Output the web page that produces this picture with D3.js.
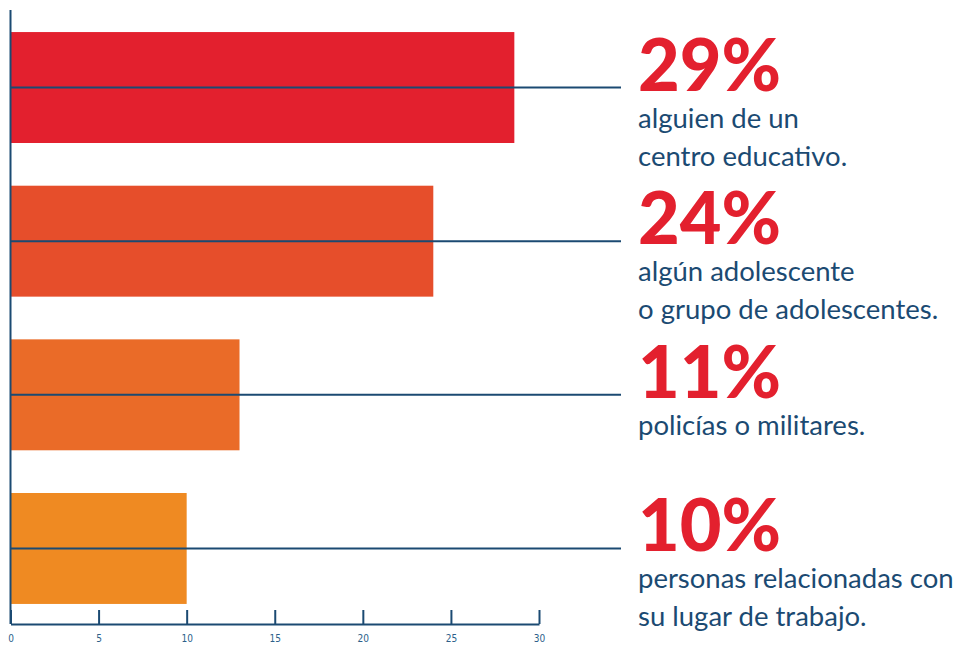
<!DOCTYPE html>
<html>
<head>
<meta charset="utf-8">
<script src="https://cdn.jsdelivr.net/npm/d3@7"></script>
<style>
  body { margin: 0; background: #fff; }
  svg { display: block; }
</style>
</head>
<body>
<div id="chart"></div>
<script>
var categories = ['centro', 'adolescentes', 'policias', 'trabajo'];
var barValues = [28.6, 24, 13, 10];
var percentLabels = ['29%', '24%', '11%', '10%'];
var descLines = [
  ['alguien de un', 'centro educativo.'],
  ['algún adolescente', 'o grupo de adolescentes.'],
  ['policías o militares.'],
  ['personas relacionadas con', 'su lugar de trabajo.']
];
var barColors = ['#e3202e', '#e64e2b', '#ea6b28', '#ef8a22'];
var tickValues = [0, 5, 10, 15, 20, 25, 30];

var width = 958, height = 646;
var blue = '#1b4a72';
var axisY = 624;

var svg = d3.select('#chart').append('svg')
  .attr('width', width)
  .attr('height', height);

var xScale = d3.scaleLinear()
  .domain([0, 30])
  .range([10.5, 539]);

var yScale = d3.scaleBand()
  .domain(categories)
  .range([10.7, 625.3])
  .paddingInner(0.278)
  .paddingOuter(0.139);

// bars
svg.selectAll('rect.bar').data(barValues)
  .enter().append('rect')
    .attr('class', 'bar')
    .attr('x', xScale(0))
    .attr('y', function(d, i) { return yScale(categories[i]); })
    .attr('width', function(d) { return xScale(d) - xScale(0); })
    .attr('height', yScale.bandwidth())
    .style('fill', function(d, i) { return barColors[i]; });

// lines through bar middles
svg.selectAll('line.guide').data(categories)
  .enter().append('line')
    .attr('class', 'guide')
    .attr('x1', xScale(0))
    .attr('x2', 621)
    .attr('y1', function(d) { return yScale(d) + yScale.bandwidth() / 2; })
    .attr('y2', function(d) { return yScale(d) + yScale.bandwidth() / 2; })
    .style('stroke', blue)
    .style('stroke-width', 2);

// y axis line
svg.append('line')
  .attr('x1', xScale(0)).attr('x2', xScale(0))
  .attr('y1', 10).attr('y2', axisY)
  .style('stroke', blue)
  .style('stroke-width', 2);

// x axis
var xAxis = svg.append('g')
  .attr('transform', 'translate(0,' + axisY + ')')
  .call(d3.axisBottom(xScale).tickValues(tickValues).tickSize(-14).tickSizeOuter(0));
xAxis.select('.domain').style('stroke', blue).style('stroke-width', 2);
xAxis.selectAll('.tick line').style('stroke', blue).style('stroke-width', 2);
xAxis.selectAll('.tick text')
  .attr('y', 11)
  .style('fill', '#2d5f8a')
  .style('font-family', 'DejaVu Sans Condensed, DejaVu Sans, sans-serif')
  .style('font-size', '10px');

// labels
var groups = svg.selectAll('g.label').data(categories)
  .enter().append('g')
    .attr('class', 'label')
    .attr('transform', function(d) {
      return 'translate(638,' + (yScale(d) + yScale.bandwidth() / 2) + ')';
    });

groups.append('text')
  .attr('y', 3)
  .text(function(d, i) { return percentLabels[i]; })
  .style('fill', '#e3202e')
  .style('font-family', 'Lato, sans-serif')
  .style('font-weight', 900)
  .style('font-size', '72px');

groups.each(function(d, i) {
  var g = d3.select(this);
  descLines[i].forEach(function(line, j) {
    g.append('text')
      .attr('y', 40 + j * 38)
      .text(line)
      .style('fill', blue)
      .style('font-family', 'Lato, sans-serif')
      .style('font-size', '27.5px');
  });
});
</script>
</body>
</html>
